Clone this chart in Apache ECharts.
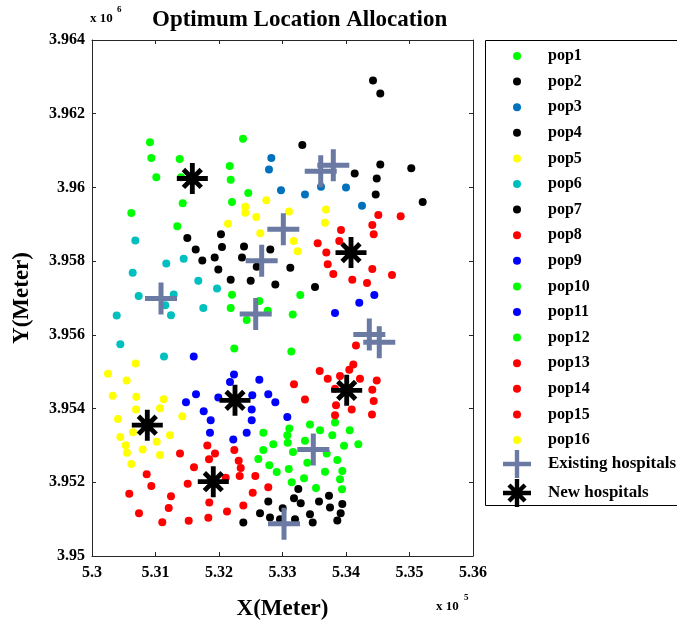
<!DOCTYPE html>
<html>
<head>
<meta charset="utf-8">
<script src="https://cdn.jsdelivr.net/npm/echarts@6.0.0/dist/echarts.min.js"></script>
<style>
html,body{margin:0;padding:0;background:#fff;}
#chart{width:677px;height:628px;}
</style>
</head>
<body>
<div id="chart"></div>
<script>
// ---- data (meters) ----
const pop1 = [[530913,3961224],[530934,3960800],[531013,3960278],[531381,3960773],[531402,3960278],[531428,3959568],[530619,3959305],[531343,3958946],[532378,3961324],[532169,3960584],[532184,3960205],[532205,3959603],[532461,3959846]];
const pop2 = [[534425,3962900],[534540,3962549],[533312,3961151],[534137,3960378],[534540,3960622],[534484,3960243],[534468,3959811],[535028,3960522],[535208,3959603]];
const pop3 = [[532824,3960800],[532787,3960486],[532976,3959922],[533354,3959811],[533606,3960016],[534000,3960000],[534252,3959503]];
const pop4 = [[531501,3958630],[532031,3958730],[531633,3958313],[532047,3958387],[531737,3958016],[531932,3958097],[532394,3958395],[532362,3958097],[532808,3958313],[531989,3957773],[532594,3957846],[532184,3957495],[532499,3957468],[532887,3957368],[533123,3957819],[533512,3957297]];
const pop5 = [[532745,3959649],[532414,3959476],[532414,3959314],[532587,3959197],[532142,3959016],[532650,3958757],[533102,3959346],[533685,3959400],[533669,3959043],[533176,3958549],[533239,3958270]];
const pop6 = [[530682,3958557],[531170,3957935],[531444,3958062],[530641,3957684],[531674,3957468],[531969,3957260],[530735,3957054],[531287,3957097],[531154,3956800],[531244,3956530],[531753,3956730],[530389,3956522],[530446,3955746],[531134,3955413]];
const pop7 = [[532776,3951476],[532646,3951162],[532803,3951043],[532383,3950908],[533003,3951297],[532961,3951000],[533249,3951819],[533181,3951568],[533287,3951432],[533575,3951476],[533732,3951638],[533748,3951313],[533942,3951413],[533916,3951162],[533863,3950962],[533433,3951135],[533476,3950908],[533197,3951000]];
const pop8 = [[534509,3959251],[534861,3959216],[533921,3958846],[534414,3958981],[534436,3958730],[533554,3958486],[533894,3958549],[533690,3958232],[533712,3957919],[533800,3957649],[534099,3957495],[534331,3957405],[534414,3957784],[534724,3957622]];
const pop9 = [[534446,3957081],[534209,3956873],[533827,3956595]];
const pop10 = [[532205,3957089],[532184,3956730],[532436,3956405],[532635,3956919],[532767,3956657],[532241,3955630],[533280,3957081],[533161,3956549],[533139,3955549]];
const pop11 = [[531602,3955413],[532236,3954927],[532635,3954784],[532173,3954719],[531638,3954386],[531480,3954170],[531989,3954297],[532524,3954359],[532776,3954386],[532887,3954170],[531759,3953927],[532515,3953973],[531869,3953684],[532515,3953684],[531858,3953341],[532436,3953341],[532225,3953162],[533076,3953773]];
const pop12 = [[532698,3953341],[532855,3953035],[532698,3952873],[532619,3952630],[532792,3952459],[532909,3952278],[533107,3953459],[533076,3953278],[533082,3953070],[533433,3953568],[533591,3953413],[533827,3953622],[533784,3953278],[534058,3953413],[533354,3953124],[533165,3952819],[533969,3952989],[534194,3953035],[533696,3952784],[533391,3952530],[533863,3952603],[533098,3952360],[533669,3952287],[533942,3952305],[533339,3952108],[533906,3952081],[533145,3952000],[533528,3951846],[533937,3951811]];
const pop13 = [[533181,3954657],[533354,3954243],[533827,3954541],[533843,3954089],[533827,3953819],[534090,3953973],[534414,3954514],[534436,3954205],[534409,3953838],[534484,3954765],[534157,3955711],[533586,3955016],[533712,3954811],[534115,3955197],[534052,3955054],[534220,3954811],[533906,3954881]];
const pop14 = [[531386,3952784],[531816,3953000],[531937,3952784],[531843,3952622],[532241,3952873],[532310,3952584],[532342,3952387],[532326,3952170],[531606,3952405],[531507,3951962],[532106,3952124],[532572,3952170],[532776,3951865],[532531,3951719],[531832,3951035],[532126,3951205],[532383,3951368],[531847,3951449],[531523,3950954]];
const pop15 = [[530861,3952216],[530934,3951900],[530587,3951692],[531244,3951622],[531208,3951305],[530740,3951162],[531107,3950919]];
const pop16 = [[530688,3955224],[530252,3954946],[530546,3954765],[530326,3954351],[530698,3954324],[531129,3954251],[530693,3953973],[531071,3954008],[530409,3953719],[531422,3953792],[530646,3953359],[530446,3953232],[531019,3953097],[531228,3953278],[530531,3953008],[530551,3952800],[530798,3952892],[531071,3952738],[530619,3952495]];
const existingHospitals = [[533602,3960441],[533800,3960603],[533013,3958865],[532672,3958008],[531087,3956989],[532578,3956568],[534367,3956008],[534524,3955800],[533485,3952892],[533024,3950873]];
const newHospitals = [[531580,3960243],[534079,3958232],[534011,3954495],[532252,3954224],[530871,3953549],[531910,3952016]];

const popNames = ['pop1','pop2','pop3','pop4','pop5','pop6','pop7','pop8','pop9','pop10','pop11','pop12','pop13','pop14','pop15','pop16'];
const popData = [pop1,pop2,pop3,pop4,pop5,pop6,pop7,pop8,pop9,pop10,pop11,pop12,pop13,pop14,pop15,pop16];
const popColors = ['#00FF00','#000000','#0072BD','#000000','#FFFF00','#00BFBF','#000000','#FF0000','#0000FF','#00FF00','#0000FF','#00FF00','#FF0000','#FF0000','#FF0000','#FFFF00'];
const hospitalNames = ['Existing hospitals','New hospitals'];

const xMin = 530000, xMax = 536000, xStep = 1000;
const yMin = 3950000, yMax = 3964000, yStep = 2000;

// ---- symbols ----
const PLUS = 'path://M0 13.5H32V18.5H0Z M13.5 0H18.5V32H13.5Z';
const ASTER = 'path://M0 13.5H32V18.5H0Z M13.5 0H18.5V32H13.5Z M8.58 5.04L26.96 23.42L23.42 26.96L5.04 8.58Z M23.42 5.04L26.96 8.58L8.58 26.96L5.04 23.42Z';

const FONT = "'Liberation Serif','Times New Roman',serif";
const axisLineStyle = {color:'#262626', width:1};

const series = popNames.map((n,i)=>({
  name:n, type:'scatter', data:popData[i], symbol:'circle', symbolSize:8,
  itemStyle:{color:popColors[i], opacity:1}, xAxisIndex:0, yAxisIndex:0, z:2
}));
series.push({name:hospitalNames[0], type:'scatter', data:existingHospitals, symbol:PLUS, symbolSize:32, symbolKeepAspect:true,
  itemStyle:{color:'#6A7AA3', opacity:1}, z:3});
series.push({name:hospitalNames[1], type:'scatter', data:newHospitals, symbol:ASTER, symbolSize:31, symbolKeepAspect:true,
  itemStyle:{color:'#000000', opacity:1}, z:4});

const chart = echarts.init(document.getElementById('chart'), null, {renderer:'canvas'});
const labelStyle = {fontFamily:FONT, fontWeight:'bold', fontSize:16, color:'#000'};
chart.setOption({
  animation:false,
  backgroundColor:'#fff',
  title:{text:'Optimum Location Allocation', left:147, top:4,
    textStyle:{fontFamily:FONT, fontWeight:'bold', fontSize:23, color:'#000'}},
  grid:{left:92, right:204, top:40, bottom:72, containLabel:false},
  xAxis:[
    {type:'value', min:xMin, max:xMax, interval:xStep, position:'bottom',
     axisLine:{show:true, onZero:false, lineStyle:axisLineStyle},
     axisTick:{show:true, inside:true, length:4, lineStyle:axisLineStyle},
     axisLabel:Object.assign({margin:9, showMinLabel:true, showMaxLabel:true,
       formatter:v=>String(parseFloat((v/1e5).toFixed(2)))}, labelStyle),
     splitLine:{show:false},
     name:'X(Meter)', nameLocation:'middle', nameGap:42,
     nameTextStyle:{fontFamily:FONT, fontWeight:'bold', fontSize:23, color:'#000'}},
    {type:'value', min:xMin, max:xMax, interval:xStep, position:'top',
     axisLine:{show:true, onZero:false, lineStyle:axisLineStyle},
     axisTick:{show:true, inside:true, length:4, lineStyle:axisLineStyle},
     axisLabel:{show:false}, splitLine:{show:false}}
  ],
  yAxis:[
    {type:'value', min:yMin, max:yMax, interval:yStep, position:'left',
     axisLine:{show:true, onZero:false, lineStyle:axisLineStyle},
     axisTick:{show:true, inside:true, length:4, lineStyle:axisLineStyle},
     axisLabel:Object.assign({margin:7, showMinLabel:true, showMaxLabel:true,
       formatter:v=>String(parseFloat((v/1e6).toFixed(3)))}, labelStyle),
     splitLine:{show:false},
     name:'Y(Meter)', nameLocation:'middle', nameGap:58,
     nameTextStyle:{fontFamily:FONT, fontWeight:'bold', fontSize:23, color:'#000'}},
    {type:'value', min:yMin, max:yMax, interval:yStep, position:'right',
     axisLine:{show:true, onZero:false, lineStyle:axisLineStyle},
     axisTick:{show:true, inside:true, length:4, lineStyle:axisLineStyle},
     axisLabel:{show:false}, splitLine:{show:false}}
  ],
  legend:[
    {orient:'vertical', left:508, top:43, itemWidth:52, itemHeight:8, itemGap:9.6,
     selectedMode:false, icon:'circle',
     data:popNames.map(n=>({name:n, icon:'circle'})),
     textStyle:{fontFamily:FONT, fontWeight:'bold', fontSize:16, color:'#000'}},
    {orient:'vertical', left:498, top:445, itemWidth:52, itemHeight:28, itemGap:1,
     selectedMode:false,
     data:[{name:hospitalNames[0], icon:PLUS},{name:hospitalNames[1], icon:ASTER}],
     textStyle:{fontFamily:FONT, fontWeight:'bold', fontSize:17, color:'#000'}}
  ],
  graphic:[
    {type:'rect', left:483, top:38, shape:{x:0,y:0,width:210,height:465},
     style:{fill:null, stroke:'#000', lineWidth:1}, z:-1, silent:true},
    {type:'text', left:90, top:12, style:{text:'x 10', font:"bold 13px 'Liberation Serif'", fill:'#000'}},
    {type:'text', left:117, top:5, style:{text:'6', font:"bold 9px 'Liberation Serif'", fill:'#000'}},
    {type:'text', left:436, top:600, style:{text:'x 10', font:"bold 13px 'Liberation Serif'", fill:'#000'}},
    {type:'text', left:464, top:593, style:{text:'5', font:"bold 9px 'Liberation Serif'", fill:'#000'}}
  ],
  series:series
});
</script>
</body>
</html>
